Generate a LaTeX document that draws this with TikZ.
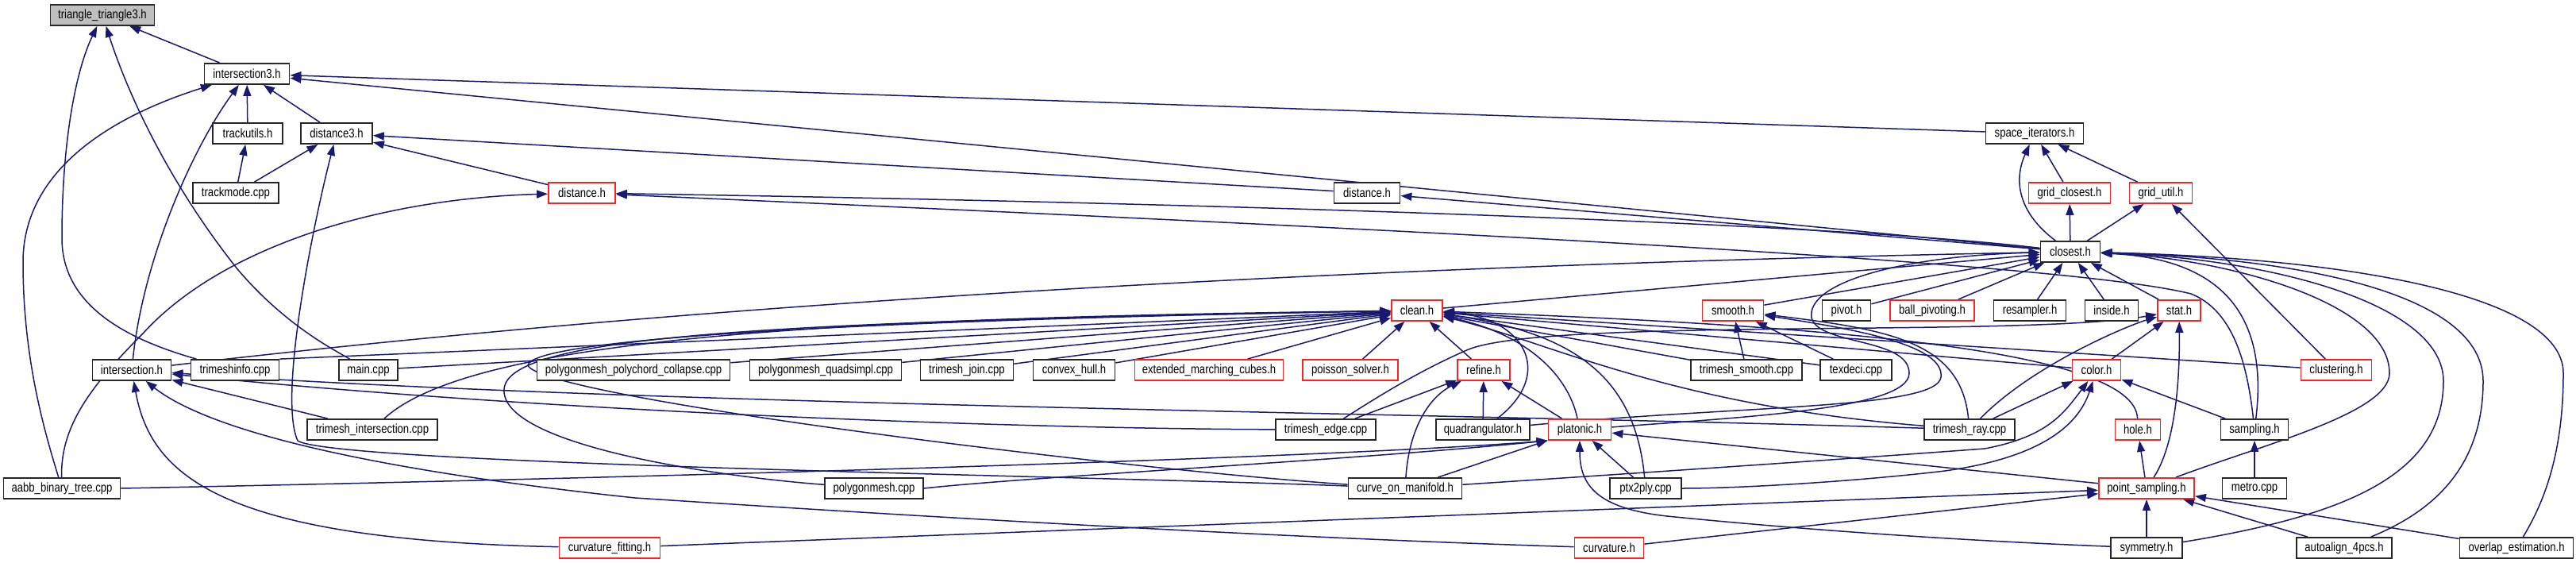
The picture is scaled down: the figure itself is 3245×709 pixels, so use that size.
\documentclass[tikz,border=0pt]{standalone}
\usepackage{fontspec}
\setmainfont{Liberation Sans}[FakeStretch=0.82]
\usetikzlibrary{arrows.meta}
\definecolor{edgecol}{HTML}{191970}
\definecolor{boxred}{HTML}{FF2020}
\definecolor{boxgray}{HTML}{BFBFBF}
\newcommand\nodefnt{\fontsize{16}{18}\selectfont}
\pgfdeclarelayer{bglayer}
\pgfdeclarelayer{edgelayer}
\pgfsetlayers{bglayer,edgelayer,main}
\tikzset{
  box/.style={draw=black!85, line width=1.8pt, fill=white, minimum height=26pt, inner sep=0pt, font=\nodefnt, text=black},
  rbox/.style={box, draw=boxred},
  edge/.style={draw=edgecol, line width=1.5pt, {Triangle[length=14pt,width=10pt]}-},
}
\begin{document}
\begin{tikzpicture}[x=1pt,y=-1pt]
\begin{pgfonlayer}{bglayer}
\fill[white] (0,0) rectangle (3245,709);
\end{pgfonlayer}
\useasboundingbox (0,0) rectangle (3245,709);
% row 1-5
\node[box, fill=boxgray, minimum width=131pt] (tri) at (129,19) {triangle\_triangle3.h};
\node[box, minimum width=107pt] (itri) at (311,93) {intersection3.h};
\node[box, minimum width=88pt] (tru) at (312,168) {trackutils.h};
\node[box, minimum width=90pt] (dthree) at (424,168) {distance3.h};
\node[box, minimum width=123pt] (spit) at (2563,168) {space\_iterators.h};
\node[box, minimum width=108pt] (tmode) at (297,243) {trackmode.cpp};
\node[rbox, minimum width=84pt] (distR) at (733,243) {distance.h};
\node[box, minimum width=83pt] (distB) at (1722,243) {distance.h};
\node[rbox, minimum width=103pt] (gcl) at (2607,243) {grid\_closest.h};
\node[rbox, minimum width=79pt] (gut) at (2722,243) {grid\_util.h};
\node[box, minimum width=75pt] (clo) at (2608,317) {closest.h};
% row 6
\node[rbox, minimum width=64pt] (cln) at (1785,391) {clean.h};
\node[rbox, minimum width=77pt] (smo) at (2183,391) {smooth.h};
\node[box, minimum width=61pt] (piv) at (2326,391) {pivot.h};
\node[rbox, minimum width=106pt] (bpv) at (2434,391) {ball\_pivoting.h};
\node[box, minimum width=91pt] (res) at (2557,391) {resampler.h};
\node[box, minimum width=67pt] (ins) at (2660,391) {inside.h};
\node[rbox, minimum width=54pt] (sta) at (2745,391) {stat.h};
% row 7
\node[box, minimum width=99pt] (inth) at (166,466) {intersection.h};
\node[box, minimum width=111pt] (tinfo) at (296,466) {trimeshinfo.cpp};
\node[box, minimum width=74pt] (mainc) at (464,466) {main.cpp};
\node[box, minimum width=243pt] (pchord) at (798,466) {polygonmesh\_polychord\_collapse.cpp};
\node[box, minimum width=191pt] (pquad) at (1040,466) {polygonmesh\_quadsimpl.cpp};
\node[box, minimum width=117pt] (tjoin) at (1218,466) {trimesh\_join.cpp};
\node[box, minimum width=103pt] (chull) at (1353,466) {convex\_hull.h};
\node[rbox, minimum width=187pt] (emc) at (1523,466) {extended\_marching\_cubes.h};
\node[rbox, minimum width=120pt] (pois) at (1701,466) {poisson\_solver.h};
\node[rbox, minimum width=66pt] (ref) at (1869,466) {refine.h};
\node[box, minimum width=140pt] (tsmo) at (2200,466) {trimesh\_smooth.cpp};
\node[box, minimum width=90pt] (tdec) at (2338,466) {texdeci.cpp};
\node[rbox, minimum width=61pt] (col) at (2641,466) {color.h};
\node[rbox, minimum width=89pt] (clu) at (2943,466) {clustering.h};
% row 8
\node[box, minimum width=164pt] (tint) at (469,541) {trimesh\_intersection.cpp};
\node[box, minimum width=126pt] (tedge) at (1670,541) {trimesh\_edge.cpp};
\node[box, minimum width=118pt] (quad) at (1868,541) {quadrangulator.h};
\node[rbox, minimum width=79pt] (plat) at (1990,541) {platonic.h};
\node[box, minimum width=114pt] (tray) at (2481,541) {trimesh\_ray.cpp};
\node[rbox, minimum width=57pt] (hole) at (2693,541) {hole.h};
\node[box, minimum width=85pt] (samp) at (2840,541) {sampling.h};
% row 9
\node[box, minimum width=147pt] (aabb) at (78,615) {aabb\_binary\_tree.cpp};
\node[box, minimum width=124pt] (pmesh) at (1101,615) {polygonmesh.cpp};
\node[box, minimum width=143pt] (com) at (1770,615) {curve\_on\_manifold.h};
\node[box, minimum width=90pt] (ptx) at (2073,615) {ptx2ply.cpp};
\node[rbox, minimum width=120pt] (psam) at (2704,615) {point\_sampling.h};
\node[box, minimum width=81pt] (metro) at (2840,615) {metro.cpp};
% row 10
\node[rbox, minimum width=127pt] (cfit) at (768,690) {curvature\_fitting.h};
\node[rbox, minimum width=87pt] (curv) at (2027,690) {curvature.h};
\node[box, minimum width=90pt] (sym) at (2704,690) {symmetry.h};
\node[box, minimum width=120pt] (autoal) at (2953,690) {autoalign\_4pcs.h};
\node[box, minimum width=143pt] (ovl) at (3170,690) {overlap\_estimation.h};

\begin{pgfonlayer}{edgelayer}
% triangle_triangle3.h
\draw[edge] (tri) -- (itri);
\draw[edge] (tri) .. controls (95,90) and (78,180) .. (78,300) .. controls (78,390) and (170,430) .. (tinfo);
\draw[edge] (tri) .. controls (165,130) and (220,240) .. (300,340) .. controls (360,410) and (420,440) .. (mainc);
% intersection3.h
\draw[edge] (itri) .. controls (130,150) and (29,220) .. (29,330) .. controls (29,450) and (55,540) .. (aabb);
\draw[edge] (itri) .. controls (240,190) and (180,330) .. (inth);
\draw[edge] (itri) -- (tru);
\draw[edge] (itri) -- (dthree);
\draw[edge] (itri) -- (spit);
\draw[edge] (itri) -- (clo);
\draw[edge] (tru) -- (tmode);
% distance3.h
\draw[edge] (dthree) -- (tmode);
\draw[edge] (dthree) .. controls (395,280) and (350,500) .. (375,555) .. controls (420,585) and (1400,600) .. (com);
\draw[edge] (dthree) -- (distB);
\draw[edge] (dthree) -- (distR);
% distance.h
\draw[edge] (distR) .. controls (480,250) and (280,310) .. (180,420) .. controls (110,490) and (76,540) .. (aabb);
\draw[edge] (distR) .. controls (1500,255) and (2300,280) .. (clo);
\draw[edge] (distR) .. controls (1800,290) and (2600,330) .. (2760,370) .. controls (2810,390) and (2830,450) .. (samp);
\draw[edge] (distB) -- (clo);
% space_iterators / grid
\draw[edge] (spit) -- (gcl);
\draw[edge] (spit) -- (gut);
\draw[edge] (spit) .. controls (2535,230) and (2545,270) .. (clo);
\draw[edge] (gcl) -- (clo);
\draw[edge] (gut) -- (clo);
\draw[edge] (gut) -- (clu);
% closest.h
\draw[edge] (clo) .. controls (1700,335) and (900,380) .. (inth);
\draw[edge] (clo) -- (cln);
\draw[edge] (clo) -- (smo);
\draw[edge] (clo) -- (piv);
\draw[edge] (clo) -- (bpv);
\draw[edge] (clo) -- (res);
\draw[edge] (clo) -- (ins);
\draw[edge] (clo) -- (sta);
\draw[edge] (clo) .. controls (2780,325) and (2860,380) .. (samp);
\draw[edge] (clo) .. controls (2800,325) and (3010,380) .. (3010,470) .. controls (3010,520) and (2850,560) .. (psam);
\draw[edge] (clo) .. controls (2850,325) and (3078,380) .. (3078,480) .. controls (3078,600) and (2950,650) .. (sym);
\draw[edge] (clo) .. controls (2900,325) and (3128,370) .. (3128,480) .. controls (3128,600) and (3050,650) .. (autoal);
\draw[edge] (clo) .. controls (2950,325) and (3229,370) .. (3229,470) .. controls (3229,580) and (3200,640) .. (ovl);
\draw[edge] (clo) .. controls (2400,322) and (2275,355) .. (2282,400) .. controls (2290,435) and (2405,425) .. (2405,470) .. controls (2405,515) and (2200,525) .. (plat);
% smooth.h
\draw[edge] (smo) -- (tsmo);
\draw[edge] (smo) -- (tdec);
\draw[edge] (smo) .. controls (2340,415) and (2450,435) .. (2445,475) .. controls (2440,515) and (2200,510) .. (quad);
\draw[edge] (smo) .. controls (2380,415) and (2470,430) .. (tray);
% clean.h
\draw[edge] (cln) -- (tinfo.north east);
\draw[edge] (cln) -- (mainc);
\draw[edge] (cln) .. controls (1100,400) and (600,420) .. (tint);
\draw[edge] (cln) .. controls (1000,405) and (640,420) .. (635,490) .. controls (630,560) and (900,600) .. (pmesh);
\draw[edge] (cln) .. controls (1000,405) and (670,430) .. (665,460) .. controls (680,500) and (1400,590) .. (com);
\draw[edge] (cln) -- (pchord);
\draw[edge] (cln) -- (pquad);
\draw[edge] (cln) -- (tjoin);
\draw[edge] (cln) -- (chull);
\draw[edge] (cln) -- (emc);
\draw[edge] (cln) -- (pois);
\draw[edge] (cln) -- (ref);
\draw[edge] (cln) .. controls (1920,400) and (1960,470) .. (quad);
\draw[edge] (cln) .. controls (1920,420) and (1975,470) .. (plat);
\draw[edge] (cln) .. controls (1990,420) and (2060,480) .. (ptx);
\draw[edge] (cln) -- (tsmo);
\draw[edge] (cln) -- (tdec);
\draw[edge] (cln) .. controls (2300,410) and (2690,440) .. (hole);
\draw[edge] (cln) -- (col);
\draw[edge] (cln) -- (clu);
\draw[edge] (cln) .. controls (1950,430) and (2100,510) .. (tray);
% refine.h
\draw[edge] (ref) -- (tedge);
\draw[edge] (ref) .. controls (1800,500) and (1775,540) .. (com);
\draw[edge] (ref) -- (quad);
\draw[edge] (ref) -- (plat);
% stat.h
\draw[edge] (sta) .. controls (2550,425) and (1950,400) .. (1850,440) .. controls (1780,470) and (1720,510) .. (tedge);
\draw[edge] (sta) .. controls (2680,410) and (2560,460) .. (tray);
\draw[edge] (sta) -- (col);
\draw[edge] (sta) .. controls (2746,480) and (2740,560) .. (psam);
% color.h
\draw[edge] (col) -- (tray);
\draw[edge] (col) .. controls (2600,520) and (2580,550) .. (2500,565) .. controls (2300,580) and (2000,600) .. (com);
\draw[edge] (col) .. controls (2620,530) and (2580,575) .. (2450,593) .. controls (2350,605) and (2200,615) .. (ptx);
\draw[edge] (col) -- (samp);
\draw[edge] (hole) -- (psam);
\draw[edge] (samp) -- (metro);
% platonic.h
\draw[edge] (plat.south west) .. controls (1700,575) and (900,600) .. (aabb.east);
\draw[edge] (plat.south west) .. controls (1700,580) and (1300,600) .. (pmesh.east);
\draw[edge] (plat) -- (com);
\draw[edge] (plat) -- (ptx);
\draw[edge] (plat) .. controls (1990,610) and (2010,640) .. (2100,650) .. controls (2300,670) and (2500,682) .. (sym);
\draw[edge] (plat) -- (psam);
% intersection.h
\draw[edge] (inth) .. controls (700,520) and (1300,540) .. (tedge);
\draw[edge] (inth) .. controls (800,510) and (1800,520) .. (tray);
\draw[edge] (inth) -- (tint);
\draw[edge] (inth) .. controls (260,540) and (450,590) .. (800,627) .. controls (1300,660) and (1700,680) .. (curv);
\draw[edge] (inth) .. controls (190,600) and (280,680) .. (cfit);
% point_sampling.h
\draw[edge] (psam) -- (cfit);
\draw[edge] (psam) -- (curv);
\draw[edge] (psam) -- (sym);
\draw[edge] (psam) -- (autoal);
\draw[edge] (psam) -- (ovl);
\end{pgfonlayer}
\end{tikzpicture}
\end{document}
